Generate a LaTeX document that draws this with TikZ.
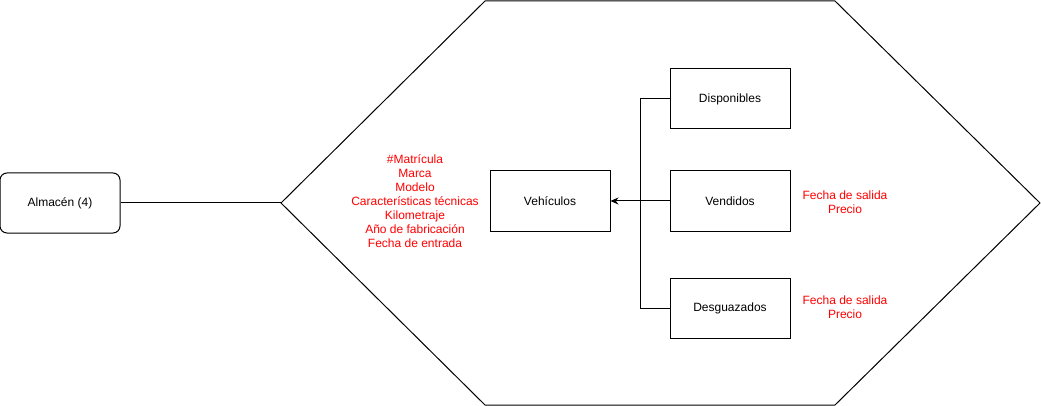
\documentclass[tikz,border=0pt]{standalone}
\usepackage{fontspec}
\setmainfont{Liberation Sans}
\usetikzlibrary{arrows.meta}

\begin{document}
\begin{tikzpicture}[x=1pt, y=-1pt, line width=1pt,
	entity/.style={draw, minimum width=120pt, minimum height=60pt, inner sep=0pt, font=\fontsize{12}{14}\selectfont},
	attrs/.style={text=red, align=center, inner sep=0pt, font=\fontsize{12}{14}\selectfont}]
	\useasboundingbox (0,0) rectangle (1041,406);

	% Relationship hexagon
	\coordinate (hexL) at (281,203);
	\draw (hexL) -- (485,1) -- (835,1) -- (1040,203) -- (835,405) -- (485,405) -- cycle;

	% Entities
	\node[entity, rounded corners=7pt] (almacen) at (60,203) {Almacén (4)};
	\node[entity] (vehiculos) at (550,201) {Vehículos};
	\node[entity] (disponibles) at (730,99) {Disponibles};
	\node[entity] (vendidos) at (730,201) {Vendidos};
	\node[entity] (desguazados) at (730,308) {Desguazados};

	% Attributes
	\node[attrs] (vehattrs) at (415,201.5) {\#Matrícula\\Marca\\Modelo\\Características técnicas\\Kilometraje\\Año de fabricación\\Fecha de entrada};
	\node[attrs] (venattrs) at (845,202) {Fecha de salida\\Precio};
	\node[attrs] (desattrs) at (845,307) {Fecha de salida\\Precio};

	% Connectors
	\coordinate (branch) at (640,201);
	\draw (almacen.east) -- (hexL);
	\draw[-{Stealth[length=8pt, width=7pt]}] (vendidos.west) -- (vehiculos.east);
	\draw (disponibles.west) -| (branch);
	\draw (desguazados.west) -| (branch);
\end{tikzpicture}
\end{document}
